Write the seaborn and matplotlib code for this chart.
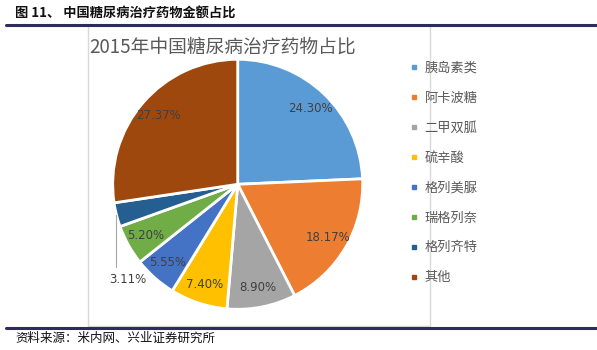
import matplotlib
matplotlib.use("Agg")
import matplotlib.pyplot as plt
import seaborn as sns
import numpy as np
from matplotlib.patches import Rectangle
from matplotlib.lines import Line2D

# ---- data ----
categories = ["胰岛素类", "阿卡波糖", "二甲双胍", "硫辛酸", "格列美脲", "瑞格列奈", "格列齐特", "其他"]
shares = [24.30, 18.17, 8.90, 7.40, 5.55, 5.20, 3.11, 27.37]
header_text = "图 11、 中国糖尿病治疗药物金额占比"
chart_title = "2015年中国糖尿病治疗药物占比"
source_text = "资料来源：米内网、兴业证券研究所"

sns.set_theme(style="white")
plt.rcParams["font.family"] = ["Noto Sans CJK SC", "DejaVu Sans"]

colors = sns.color_palette(["#5B9BD5", "#ED7D31", "#A5A5A5", "#FFC000",
                            "#4472C4", "#70AD47", "#255E91", "#9E480E"])

W, H = 597, 350
fig = plt.figure(figsize=(W / 100, H / 100), dpi=100)
fig.patch.set_facecolor("white")

def fx(px):
    return px / W

def fy(py):
    return 1 - py / H

# header and rules
fig.text(fx(15), fy(14), header_text, fontsize=9.5, fontweight="bold",
         color="#111111", ha="left", va="center")
fig.add_artist(Line2D([fx(6), fx(597)], [fy(25), fy(25)], color="#2E2B5F", lw=2.2))
fig.add_artist(Line2D([fx(6), fx(597)], [fy(328), fy(328)], color="#2E2B5F", lw=2.2))
fig.text(fx(15), fy(338), source_text, fontsize=9, color="#111111",
         ha="left", va="center")

# chart box
fig.add_artist(Rectangle((fx(88), fy(326)), fx(430) - fx(88), fy(25) - fy(326),
                         transform=fig.transFigure, fill=False,
                         edgecolor="#D9D9D9", lw=1))

fig.text(fx(223), fy(47), chart_title, fontsize=13.5, color="#595959",
         ha="center", va="center")

# pie
cx, cy, r = 237.7, 184.3, 125
ax = fig.add_axes([fx(cx - r), fy(cy + r), 2 * r / W, 2 * r / H])

wedges, texts = ax.pie(shares, colors=colors, startangle=90, counterclock=False,
                       radius=1, wedgeprops=dict(edgecolor="white", linewidth=2))
ax.set_xlim(-1, 1)
ax.set_ylim(-1, 1)
ax.set_aspect("equal")
ax.axis("off")

small_limit = 4.0
for w, v in zip(wedges, shares):
    mid = np.deg2rad((w.theta1 + w.theta2) / 2)
    label = f"{v:.2f}%"
    if v < small_limit:
        x0, y0 = np.cos(mid), np.sin(mid)
        ax.plot([x0, x0], [y0, -0.66], color="#A6A6A6", lw=0.8, clip_on=False)
        ax.text(x0 + 0.09, -0.76, label, fontsize=8.5, color="#404040",
                family="DejaVu Sans", ha="center", va="center", clip_on=False)
    else:
        d = 0.84
        ax.text(d * np.cos(mid), d * np.sin(mid), label, fontsize=8.5,
                color="#404040", family="DejaVu Sans", ha="center", va="center")

# legend
handles = [Line2D([0], [0], marker="s", linestyle="none", markersize=3.5,
                  markerfacecolor=c, markeredgecolor=c) for c in colors]
leg = fig.legend(handles, categories, loc="upper left",
                 bbox_to_anchor=(fx(410), fy(62)), frameon=False,
                 fontsize=9.5, labelcolor="#595959", handlelength=0.6,
                 handletextpad=0.5, labelspacing=1.28, borderpad=0,
                 borderaxespad=0)

fig.savefig("out.png", dpi=100, facecolor="white")
